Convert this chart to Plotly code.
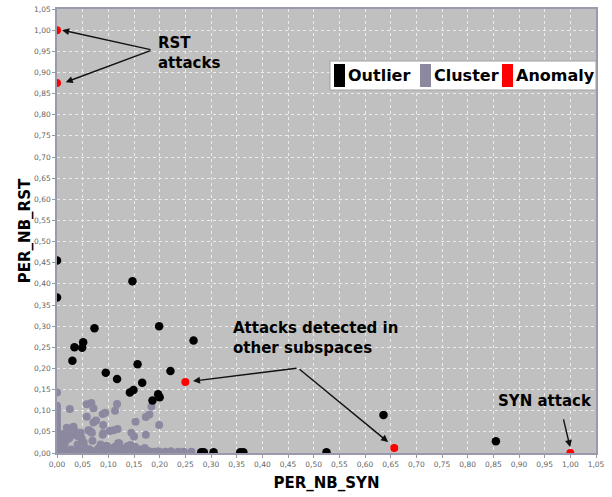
import plotly.graph_objects as go

# ---------------- data ----------------
outlier_x = [0.000, 0.000, 0.147, 0.199, 0.266, 0.073, 0.051, 0.049, 0.034, 0.030,
             0.157, 0.221, 0.095, 0.117, 0.166, 0.142, 0.149, 0.197, 0.200, 0.186,
             0.281, 0.286, 0.305, 0.357, 0.363, 0.525, 0.636, 0.855]
outlier_y = [0.455, 0.368, 0.406, 0.300, 0.266, 0.295, 0.262, 0.249, 0.250, 0.218,
             0.210, 0.194, 0.190, 0.175, 0.166, 0.143, 0.149, 0.139, 0.132, 0.124,
             0.002, 0.002, 0.002, 0.002, 0.002, 0.002, 0.090, 0.028]

anomaly_x = [0.000, 0.000, 0.250, 0.657, 1.000]
anomaly_y = [1.000, 0.875, 0.168, 0.012, 0.000]

cluster_x = [
    # points along the left edge
    0.000, 0.000, 0.000, 0.000, 0.000, 0.000, 0.000, 0.000, 0.000, 0.000, 0.000, 0.000, 0.000, 0.000,
    # dense band on the x axis
    0.006, 0.013, 0.021, 0.027, 0.036, 0.043, 0.049, 0.058, 0.063, 0.071, 0.079, 0.086, 0.093,
    0.101, 0.108, 0.115, 0.124, 0.131, 0.138, 0.146, 0.151, 0.159, 0.167, 0.178, 0.189, 0.198,
    0.211, 0.222, 0.236, 0.247, 0.262,
    # body of the cluster
    0.025, 0.058, 0.067, 0.071, 0.058, 0.089, 0.094, 0.113, 0.117, 0.071, 0.076, 0.019, 0.032,
    0.030, 0.035, 0.045, 0.048, 0.024, 0.061, 0.066, 0.090, 0.089, 0.103, 0.110, 0.118, 0.069,
    0.121, 0.145, 0.150, 0.153, 0.173, 0.173, 0.180, 0.184, 0.199, 0.143, 0.147, 0.097, 0.162,
    0.020, 0.033, 0.046, 0.040, 0.063, 0.068, 0.090, 0.119, 0.171, 0.152, 0.120, 0.010, 0.015,
    0.040, 0.055, 0.080, 0.105, 0.130, 0.008, 0.012, 0.022, 0.028, 0.052, 0.085, 0.112, 0.137,
]
cluster_y = [
    0.143, 0.112, 0.104, 0.094, 0.085, 0.076, 0.066, 0.058, 0.050, 0.042, 0.034, 0.026, 0.018, 0.010,
    0.004, 0.007, 0.003, 0.008, 0.004, 0.006, 0.003, 0.005, 0.009, 0.004, 0.006, 0.003, 0.007,
    0.004, 0.008, 0.003, 0.006, 0.004, 0.005, 0.003, 0.007, 0.004, 0.003, 0.005, 0.003, 0.004,
    0.003, 0.004, 0.003, 0.003, 0.003,
    0.104, 0.115, 0.118, 0.106, 0.086, 0.092, 0.095, 0.100, 0.116, 0.072, 0.077, 0.060, 0.062,
    0.050, 0.043, 0.047, 0.035, 0.035, 0.054, 0.050, 0.066, 0.043, 0.052, 0.054, 0.057, 0.029,
    0.023, 0.048, 0.039, 0.074, 0.043, 0.085, 0.091, 0.110, 0.066, 0.019, 0.011, 0.017, 0.008,
    0.032, 0.056, 0.048, 0.040, 0.053, 0.048, 0.047, 0.023, 0.012, 0.015, 0.012, 0.015, 0.022,
    0.020, 0.012, 0.010, 0.008, 0.010, 0.030, 0.045, 0.040, 0.052, 0.025, 0.020, 0.014, 0.016,
]

tick_values = [0.00, 0.05, 0.10, 0.15, 0.20, 0.25, 0.30, 0.35, 0.40, 0.45, 0.50,
               0.55, 0.60, 0.65, 0.70, 0.75, 0.80, 0.85, 0.90, 0.95, 1.00, 1.05]

legend_labels = ["Outlier", "Cluster", "Anomaly"]
x_title = "PER_NB_SYN"
y_title = "PER_NB_RST"

# ---------------- styles ----------------
C_OUT = "#000000"
C_CLU = "#8b88a0"
C_ANO = "#ff0000"
FONT = "DejaVu Sans"

fig = go.Figure()
fig.add_trace(go.Scatter(x=cluster_x, y=cluster_y, mode="markers", name=legend_labels[1],
                         marker=dict(color=C_CLU, size=8, line=dict(width=0)), showlegend=False))
fig.add_trace(go.Scatter(x=outlier_x, y=outlier_y, mode="markers", name=legend_labels[0],
                         marker=dict(color=C_OUT, size=8.5, line=dict(width=0)), showlegend=False))
fig.add_trace(go.Scatter(x=anomaly_x, y=anomaly_y, mode="markers", name=legend_labels[2],
                         marker=dict(color=C_ANO, size=8, line=dict(width=0)), showlegend=False))

axis_common = dict(
    range=[0, 1.05], tickvals=tick_values, tickformat=".2f",
    showgrid=True, gridcolor="#ececec", gridwidth=1, griddash="dot",
    zeroline=False, showline=True, linecolor="#9a9aae", linewidth=1.5, mirror=True,
    ticks="outside", ticklen=3, tickcolor="#999999",
    tickfont=dict(family=FONT, size=7.5, color="#666666"),
    automargin=False,
)

fig.update_xaxes(**axis_common,
                 title=dict(text="<b>%s</b>" % x_title, font=dict(family=FONT, size=15, color="#000"), standoff=10))
fig.update_yaxes(**axis_common,
                 title=dict(text="<b>%s</b>" % y_title, font=dict(family=FONT, size=15, color="#000"), standoff=0))

# ---------------- annotations ----------------
arrow_style = dict(showarrow=True, arrowhead=2, arrowsize=1, arrowwidth=1.4, arrowcolor="#111",
                   axref="x", ayref="y", xref="x", yref="y", text="", standoff=0, startstandoff=0)
annots = [
    # RST attacks arrows
    dict(x=0.010, y=1.000, ax=0.185, ay=0.953, **arrow_style),
    dict(x=0.017, y=0.877, ax=0.185, ay=0.953, **arrow_style),
    # Attacks detected in other subspaces
    dict(x=0.265, y=0.170, ax=0.4695, ay=0.201, **arrow_style),
    dict(x=0.645, y=0.026, ax=0.4695, ay=0.201, **arrow_style),
    # SYN attack
    dict(x=0.9995, y=0.014, ax=0.986, ay=0.083, **arrow_style),
]
text_style = dict(xref="x", yref="y", showarrow=False, xanchor="left", yanchor="middle", align="left",
                  font=dict(family=FONT, size=15, color="#000"))
annots += [
    dict(x=0.193, y=0.947, text="<b>RST<br>attacks</b>", **text_style),
    dict(x=0.339, y=0.272, text="<b>Attacks detected in<br>other subspaces</b>", **text_style),
    dict(x=0.855, y=0.124, text="<b>SYN attack</b>", **text_style),
]

# ---------------- manual legend (pixel layout converted to paper coords) ----------------
L, R, T, B = 57, 596, 9, 453
def px(x):
    return (x - L) / (R - L)
def py(y):
    return (B - y) / (B - T)

shapes = [
    dict(type="rect", xref="paper", yref="paper", x0=px(330), x1=px(596), y0=py(90), y1=py(61),
         fillcolor="white", line=dict(color="#a0a0a0", width=1), layer="above"),
]
swatch_x = [334, 420, 502]
text_x = [346, 432, 514]
colors = [C_OUT, C_CLU, C_ANO]
for sx, tx, col, lab in zip(swatch_x, text_x, colors, legend_labels):
    shapes.append(dict(type="rect", xref="paper", yref="paper", x0=px(sx), x1=px(sx + 11),
                       y0=py(87), y1=py(64), fillcolor=col, line=dict(width=0), layer="above"))
    annots.append(dict(xref="paper", yref="paper", x=px(tx), y=py(75.5), text="<b>%s</b>" % lab,
                       showarrow=False, xanchor="left", yanchor="middle",
                       font=dict(family=FONT, size=16, color="#000")))

fig.update_layout(
    width=612, height=497,
    margin=dict(l=L, r=612 - R, t=T, b=497 - B),
    paper_bgcolor="white", plot_bgcolor="#c0c0c0",
    separators=",.",
    annotations=annots, shapes=shapes,
    showlegend=False,
)

fig.write_html("out.html", config={"displayModeBar": False},
               post_script="document.body.style.margin='0';document.body.style.overflow='hidden';")
